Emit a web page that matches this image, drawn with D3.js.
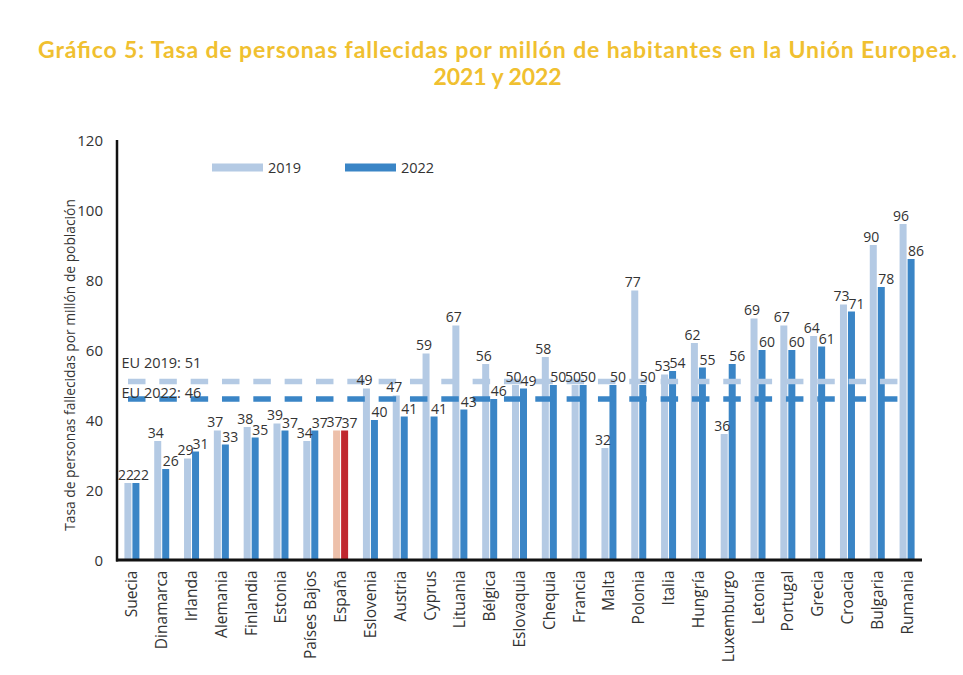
<!DOCTYPE html>
<html><head><meta charset="utf-8">
<script src="https://cdn.jsdelivr.net/npm/d3@7"></script>
<style>body{margin:0;background:#fff}svg{display:block}</style>
</head><body>
<svg id="c" width="963" height="675"></svg>
<script>
const countries = ["Suecia","Dinamarca","Irlanda","Alemania","Finlandia","Estonia","Países Bajos","España","Eslovenia","Austria","Cyprus","Lituania","Bélgica","Eslovaquia","Chequia","Francia","Malta","Polonia","Italia","Hungría","Luxemburgo","Letonia","Portugal","Grecia","Croacia","Bulgaria","Rumania"];
const values2019 = [22,34,29,37,38,39,34,37,49,47,59,67,56,50,58,50,32,77,53,62,36,69,67,64,73,90,96];
const values2022 = [22,26,31,33,35,37,37,37,40,41,41,43,46,49,50,50,50,50,54,55,56,60,60,61,71,78,86];
const yTicks = [0,20,40,60,80,100,120];
const euAvg = [{label:"EU 2019: 51", value:51, series:"2019"},{label:"EU 2022: 46", value:46, series:"2022"}];
const highlight = "España";

const C = {l:"#B4CAE4", d:"#3A85C6", hl:"#EDC0AA", hd:"#C0282F"};
const svg = d3.select("#c");
const font = "'Open Sans', sans-serif";
const txt = "#333";

// Title
const titleLines = [
  {t:"Gráfico 5: Tasa de personas fallecidas por millón de habitantes en la Unión Europea.", y:58, w:919},
  {t:"2021 y 2022", y:85, w:128}
];
svg.append("g").selectAll("text").data(titleLines).join("text")
  .attr("x",497.5).attr("y",d=>d.y).attr("text-anchor","middle")
  .attr("font-family","Lato, sans-serif").attr("font-weight","bold").attr("font-size",23)
  .attr("textLength",d=>d.w).attr("lengthAdjust","spacing")
  .attr("fill","#F0C030").text(d=>d.t);

const x = d3.scaleBand().domain(countries).range([117,922]).padding(0);
const y = d3.scaleLinear().domain([0,120]).range([560,140]);

// y tick labels
svg.append("g").selectAll("text").data(yTicks).join("text")
  .attr("x",103).attr("y",d=>y(d)+5.5).attr("text-anchor","end")
  .attr("font-family",font).attr("font-size",15).attr("fill",txt).text(d=>d);

// y title
svg.append("text").attr("transform","translate(75,365) rotate(-90)").attr("text-anchor","middle")
  .attr("font-family",font).attr("font-size",13.8).attr("fill",txt)
  .text("Tasa de personas fallecidas por millón de población");

const bw = 7;
const data = countries.map((c,i)=>({c, v19:values2019[i], v22:values2022[i]}));
const cx = d=>x(d.c)+x.bandwidth()/2;

const g = svg.append("g");
g.selectAll("rect.a").data(data).join("rect").attr("class","a")
  .attr("x",d=>cx(d)-bw-0.5).attr("width",bw)
  .attr("y",d=>y(d.v19)).attr("height",d=>y(0)-y(d.v19))
  .attr("fill",d=>d.c===highlight?C.hl:C.l);
g.selectAll("rect.b").data(data).join("rect").attr("class","b")
  .attr("x",d=>cx(d)+0.5).attr("width",bw)
  .attr("y",d=>y(d.v22)).attr("height",d=>y(0)-y(d.v22))
  .attr("fill",d=>d.c===highlight?C.hd:C.d);

// EU average dashed lines
svg.append("g").selectAll("line").data(euAvg).join("line")
  .attr("x1",128).attr("x2",897.5).attr("y1",d=>y(d.value)).attr("y2",d=>y(d.value))
  .attr("stroke",d=>d.series==="2019"?C.l:C.d).attr("stroke-width",5.5)
  .attr("stroke-dasharray","17.5,13.83");
svg.append("g").selectAll("text").data(euAvg).join("text")
  .attr("x",121.5).attr("y",d=>d.series==="2019"?y(d.value)-13.5:y(d.value)-1.5)
  .attr("font-family",font).attr("font-size",14.5).attr("fill",txt).text(d=>d.label);

// value labels
const vl = svg.append("g").attr("font-family",font).attr("font-size",14).attr("fill",txt).attr("text-anchor","middle");
vl.selectAll("text.a").data(data).join("text").attr("class","a")
  .attr("x",d=>cx(d)-bw/2-2.5).attr("y",d=>y(d.v19)-3.5).text(d=>d.v19);
vl.selectAll("text.b").data(data).join("text").attr("class","b")
  .attr("x",d=>cx(d)+bw/2+5.5).attr("y",d=>y(d.v22)-3).text(d=>d.v22);

// axes lines
svg.append("line").attr("x1",117).attr("x2",117).attr("y1",y(120)).attr("y2",y(0)+1.5).attr("stroke","#111").attr("stroke-width",2.5);
svg.append("line").attr("x1",116).attr("x2",922).attr("y1",y(0)).attr("y2",y(0)).attr("stroke","#111").attr("stroke-width",3);

// category labels
svg.append("g").selectAll("text").data(countries).join("text")
  .attr("transform",d=>`translate(${x(d)+x.bandwidth()/2+5.5},570.5) rotate(-90)`)
  .attr("text-anchor","end").attr("font-family",font).attr("font-size",15.5).attr("fill",txt).text(d=>d);

// legend
const leg = [{k:"2019",c:C.l,x:212},{k:"2022",c:C.d,x:345}];
const lg = svg.append("g");
lg.selectAll("line").data(leg).join("line").attr("x1",d=>d.x).attr("x2",d=>d.x+51)
  .attr("y1",167.5).attr("y2",167.5).attr("stroke",d=>d.c).attr("stroke-width",8);
lg.selectAll("text").data(leg).join("text").attr("x",d=>d.x+56).attr("y",173)
  .attr("font-family",font).attr("font-size",14.5).attr("fill",txt).text(d=>d.k);
</script>
</body></html>
